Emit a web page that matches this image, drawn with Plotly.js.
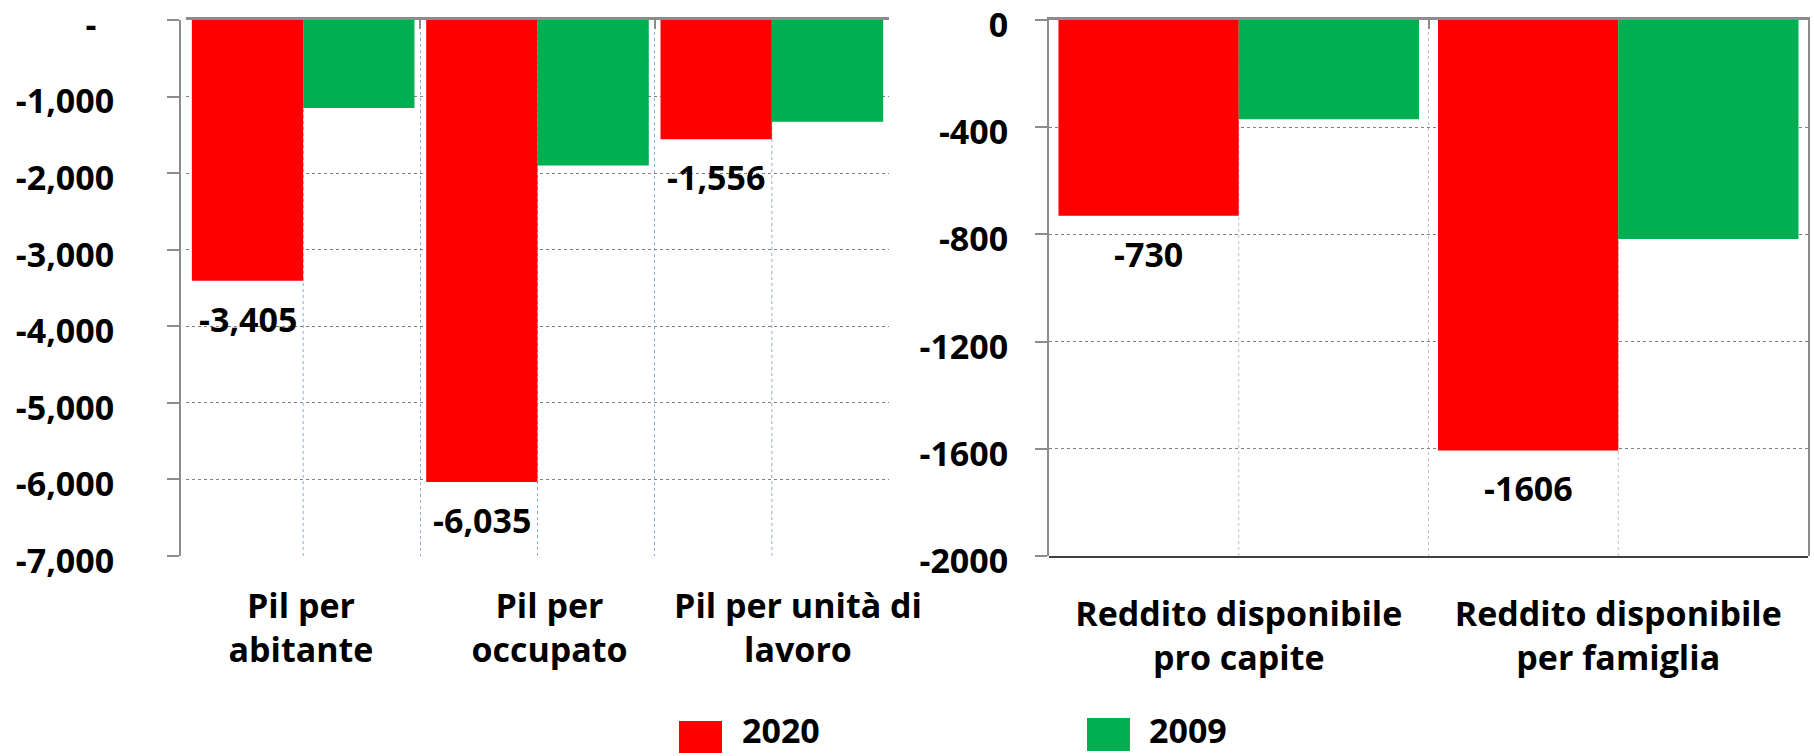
<!DOCTYPE html>
<html><head><meta charset="utf-8">
<script src="https://cdn.plot.ly/plotly-3.0.1.min.js"></script>
<style>html,body{margin:0;padding:0;background:#fff}#chart{width:1814px;height:756px}</style>
</head><body><div id="chart"></div>
<script>
// ---- data ----
const seriesNames = ['2020', '2009'];
const seriesColors = ['#FF0000', '#00B050'];

const pilCategories = ['Pil per abitante', 'Pil per occupato', 'Pil per unità di lavoro'];
const pilLabels = ['Pil per<br>abitante', 'Pil per<br>occupato', 'Pil per unità di<br>lavoro'];
const pil2020 = [-3405, -6035, -1556];
const pil2009 = [-1150, -1900, -1330];
const pilTickVals = [0, -1000, -2000, -3000, -4000, -5000, -6000, -7000];
const pilTickText = ['-\u00a0\u00a0', '-1,000', '-2,000', '-3,000', '-4,000', '-5,000', '-6,000', '-7,000'];

const redCategories = ['Reddito disponibile pro capite', 'Reddito disponibile per famiglia'];
const redLabels = ['Reddito disponibile<br>pro capite', 'Reddito disponibile<br>per famiglia'];
const red2020 = [-730, -1606];
const red2009 = [-370, -817];
const redTickVals = [0, -400, -800, -1200, -1600, -2000];
const redTickText = ['0', '-400', '-800', '-1200', '-1600', '-2000'];

// ---- layout helpers ----
const W = 1814, H = 756;
const px = x => x / W;
const py = y => 1 - y / H;
const FONT = 'Open Sans, Noto Sans, sans-serif';
const bold = (size) => ({family: FONT, size: size, color: '#000', weight: 'bold'});
const BARGAP = 0.05;
const redOffset = -(1 - BARGAP) / 4;

const yDom = [py(556), py(20)];
const leftDom = [px(186), px(889)];
const rightDom = [px(1049), px(1808)];
const leftLabelDom = [px(176.75), px(922.25)];

const traces = [
  {type: 'bar', x: pilCategories, y: pil2020, name: seriesNames[0], marker: {color: seriesColors[0]}, xaxis: 'x', yaxis: 'y', showlegend: false, hoverinfo: 'skip'},
  {type: 'bar', x: pilCategories, y: pil2009, name: seriesNames[1], marker: {color: seriesColors[1]}, xaxis: 'x', yaxis: 'y', showlegend: false, hoverinfo: 'skip'},
  {type: 'bar', x: redCategories, y: red2020, name: seriesNames[0], marker: {color: seriesColors[0]}, xaxis: 'x2', yaxis: 'y2', showlegend: false, hoverinfo: 'skip'},
  {type: 'bar', x: redCategories, y: red2009, name: seriesNames[1], marker: {color: seriesColors[1]}, xaxis: 'x2', yaxis: 'y2', showlegend: false, hoverinfo: 'skip'},
  // empty traces so the label-only axes get a subplot
  {type: 'scatter', x: [], y: [], xaxis: 'x3', yaxis: 'y3', showlegend: false, hoverinfo: 'skip'},
  {type: 'scatter', x: [], y: [], xaxis: 'x4', yaxis: 'y4', showlegend: false, hoverinfo: 'skip'}
];

const annotations = [];
pil2020.forEach((v, i) => annotations.push({
  xref: 'x', yref: 'y', x: i + redOffset, y: v, text: v.toLocaleString('en-US'),
  showarrow: false, xanchor: 'center', yanchor: 'middle', yshift: -38, font: bold(34)
}));
red2020.forEach((v, i) => annotations.push({
  xref: 'x2', yref: 'y2', x: i + redOffset, y: v, text: String(v),
  showarrow: false, xanchor: 'center', yanchor: 'middle', yshift: -38, font: bold(34)
}));

// legend (drawn manually to match the large swatches)
const legendSwatches = [[679, 722, 721, 753], [1087, 1130, 718, 751]];
const legendTextX = [740, 1147];
const shapes = [];
seriesNames.forEach((n, k) => {
  const s = legendSwatches[k];
  shapes.push({type: 'rect', xref: 'paper', yref: 'paper', x0: px(s[0]), x1: px(s[1]), y0: py(s[3]), y1: py(s[2]),
    fillcolor: seriesColors[k], line: {width: 0}});
  annotations.push({xref: 'paper', yref: 'paper', x: px(legendTextX[k]), y: py(730),
    xanchor: 'left', yanchor: 'middle', text: n, showarrow: false, font: bold(34)});
});

// vertical dotted gridlines through the middle of each category (between the two bars)
pilCategories.forEach((c, i) => shapes.push({type: 'line', xref: 'x', yref: 'y domain', x0: i, x1: i, y0: 0, y1: 1,
  line: {color: '#8EA9DB', width: 1, dash: 'dot'}, layer: 'below'}));
redCategories.forEach((c, i) => shapes.push({type: 'line', xref: 'x2', yref: 'y2 domain', x0: i, x1: i, y0: 0, y1: 1,
  line: {color: '#BFBFBF', width: 1, dash: 'dot'}, layer: 'below'}));

const hiddenY = (anchor) => ({domain: yDom, anchor: anchor, range: [0, 1], showgrid: false, zeroline: false,
  showline: false, showticklabels: false, ticks: '', fixedrange: true});

const layout = {
  width: W, height: H,
  margin: {l: 0, r: 0, t: 0, b: 0, pad: 0},
  paper_bgcolor: '#fff', plot_bgcolor: 'rgba(0,0,0,0)',
  font: bold(34),
  barmode: 'group', bargap: BARGAP, bargroupgap: 0,
  showlegend: false,
  xaxis: {domain: leftDom, anchor: 'y', side: 'top', type: 'category', showticklabels: false,
    tickson: 'boundaries', ticks: 'inside', ticklen: 9, tickwidth: 2, tickcolor: '#8c8c8c',
    showline: true, linecolor: '#8c8c8c', linewidth: 3,
    showgrid: true, gridcolor: '#8EA9DB', griddash: 'dot', gridwidth: 1, zeroline: false, fixedrange: true},
  yaxis: {domain: yDom, anchor: 'free', position: px(180), range: [-7000, 0], tickmode: 'array', tickvals: pilTickVals, ticktext: pilTickText,
    ticks: 'outside', ticklen: 12, tickwidth: 2, tickcolor: '#8c8c8c',
    showline: true, linecolor: '#8c8c8c', linewidth: 2,
    showgrid: true, gridcolor: '#808080', griddash: 'dot', gridwidth: 1, zeroline: false,
    tickfont: bold(34), ticklabelstandoff: 46, ticklabelshift: 5, ticklabeloverflow: 'allow', automargin: false, fixedrange: true},
  xaxis2: {domain: rightDom, anchor: 'y2', side: 'top', type: 'category', showticklabels: false,
    tickson: 'boundaries', ticks: 'inside', ticklen: 9, tickwidth: 2, tickcolor: '#8c8c8c',
    showline: true, linecolor: '#8c8c8c', linewidth: 3,
    showgrid: true, gridcolor: '#BFBFBF', griddash: 'dot', gridwidth: 1, zeroline: false, fixedrange: true},
  yaxis2: {domain: yDom, anchor: 'x2', range: [-2000, 0], tickmode: 'array', tickvals: redTickVals, ticktext: redTickText,
    ticks: 'outside', ticklen: 12, tickwidth: 2, tickcolor: '#8c8c8c',
    showline: true, mirror: true, linecolor: '#8c8c8c', linewidth: 2,
    showgrid: true, gridcolor: '#808080', griddash: 'dot', gridwidth: 1, zeroline: false,
    tickfont: bold(34), ticklabelstandoff: 20, ticklabelshift: 5, ticklabeloverflow: 'allow', automargin: false, fixedrange: true},
  // category label axes
  xaxis3: {domain: leftLabelDom, anchor: 'y3', type: 'linear', range: [-0.5, pilCategories.length - 0.5],
    tickmode: 'array', tickvals: pilCategories.map((c, i) => i), ticktext: pilLabels,
    ticks: '', showgrid: false, zeroline: false, showline: false, tickfont: bold(34),
    ticklabelstandoff: 27, ticklabeloverflow: 'allow', automargin: false, fixedrange: true},
  yaxis3: hiddenY('x3'),
  xaxis4: {domain: rightDom, anchor: 'y4', type: 'linear', range: [-0.5, redCategories.length - 0.5],
    tickmode: 'array', tickvals: redCategories.map((c, i) => i), ticktext: redLabels,
    ticks: '', showgrid: false, zeroline: false, showline: true, linecolor: '#404040', linewidth: 2,
    tickfont: bold(34), ticklabelstandoff: 27, ticklabeloverflow: 'allow', automargin: false, fixedrange: true},
  yaxis4: hiddenY('x4'),
  annotations: annotations,
  shapes: shapes
};

Plotly.newPlot('chart', traces, layout, {staticPlot: true, displayModeBar: false});
</script>
</body></html>
